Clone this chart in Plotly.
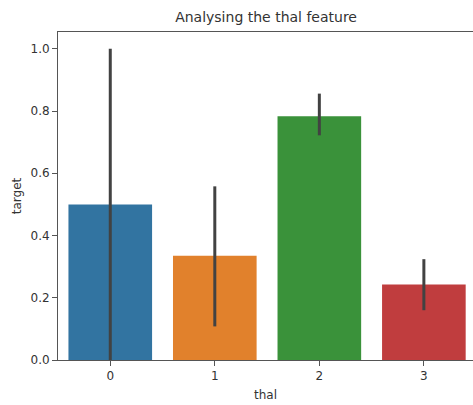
import plotly.graph_objects as go

categories = ["0", "1", "2", "3"]
means = [0.50, 0.335, 0.783, 0.243]
ci_low = [0.0, 0.108, 0.722, 0.160]
ci_high = [1.0, 0.558, 0.856, 0.324]
colors = ["#3274a1", "#e1812c", "#3a923a", "#c03d3e"]
yticks = [0.0, 0.2, 0.4, 0.6, 0.8, 1.0]

xs = list(range(len(categories)))
fig = go.Figure()
fig.add_trace(go.Bar(
    x=xs, y=means, width=0.8,
    marker=dict(color=colors, line=dict(width=0)),
    error_y=dict(type="data", symmetric=False,
                 array=[h - m for h, m in zip(ci_high, means)],
                 arrayminus=[m - l for m, l in zip(means, ci_low)],
                 color="#424242", thickness=3, width=0),
    showlegend=False,
))

fig.update_layout(
    width=473, height=405,
    margin=dict(l=58, r=0, t=32, b=45),
    plot_bgcolor="white", paper_bgcolor="white",
    font=dict(family="DejaVu Sans", size=12, color="#333333"),
    title=dict(text="Analysing the thal feature", x=0.5625, xanchor="center",
               y=1 - 17/405, yanchor="middle", font=dict(size=14, color="#333333")),
    xaxis=dict(range=[-0.5, 3.47], tickmode="array", tickvals=xs, ticktext=categories,
               showline=True, linecolor="#555555", linewidth=1, mirror=True,
               ticks="outside", ticklen=5, tickcolor="#555555", showgrid=False, zeroline=False,
               title=dict(text="thal", font=dict(size=12), standoff=8)),
    yaxis=dict(range=[0, 1.054], tickmode="array", tickvals=yticks,
               ticktext=[f"{v:.1f}" for v in yticks],
               showline=True, linecolor="#555555", linewidth=1, mirror=True,
               ticks="outside", ticklen=5, tickcolor="#555555", showgrid=False, zeroline=False,
               title=dict(text="target", font=dict(size=12), standoff=6)),
)
fig.write_html("out.html", config={"displayModeBar": False},
               post_script="document.body.style.margin='0';document.body.style.overflow='hidden';")
